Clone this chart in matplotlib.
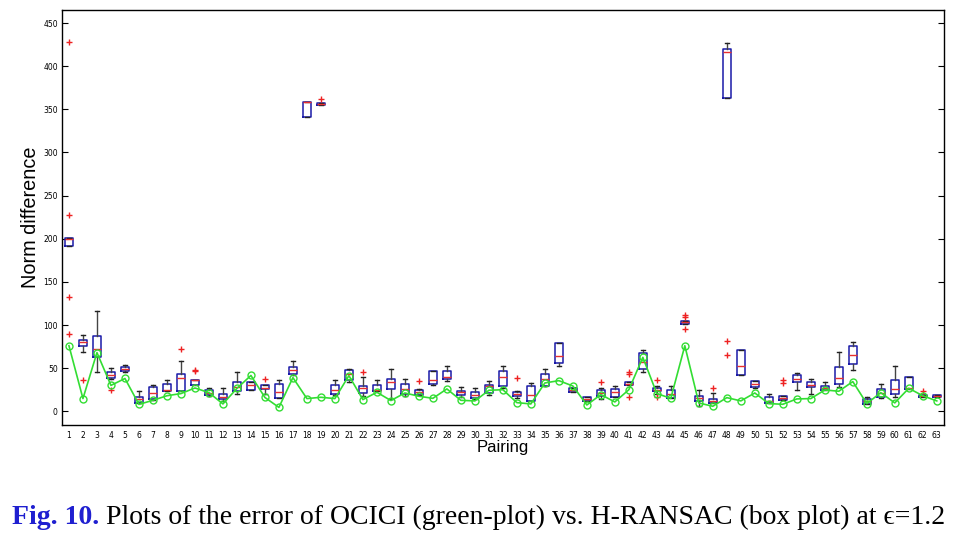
import matplotlib
matplotlib.use('Agg')
import matplotlib.pyplot as plt

# box statistics per pairing
pairing = list(range(1, 64))
q1 = [192, 76, 63, 38, 47, 10, 14, 24, 24, 30, 18.6, 14, 23, 25, 25.5, 15, 43.5, 341, 355, 20,
      36.7, 21.2, 24, 25.9, 20, 18.5, 31.6, 37.4, 18.5, 15.4, 21.2, 29.3, 17.4, 12, 29.7, 56.4, 22, 12.4, 17.4, 16.2,
      30, 49.4, 23, 15.8, 101.5, 12.4, 9.6, 363, 42, 28, 10, 13.5, 34.4, 27.8, 24.7, 31.6, 55, 8.9, 17, 20,
      26.2, 16.6, 17]
med = [200, 80, 72, 42, 49.5, 14.7, 21.6, 24.7, 38, 36.7, 21.3, 17, 28, 30, 27.5, 22.5, 47.5, 358, 356, 24.3,
       43.6, 26.6, 25, 34, 26.2, 22.8, 36, 40, 22, 18.5, 29, 40, 19.7, 18.5, 37.8, 63.7, 25, 14.7, 21.2, 22.4,
       32, 57, 25, 20, 103, 15, 11.6, 416, 53, 32, 11.6, 15, 37, 31, 27, 38.6, 64.8, 12, 21.6, 25.5,
       27, 17.8, 18]
q3 = [201, 83, 87, 45.5, 51, 17, 28.5, 31.6, 43, 36.7, 24.4, 20, 33.5, 34, 30, 32, 51.5, 358, 357, 30.5,
      47.5, 29.7, 30.5, 37.8, 31.6, 24.7, 46.7, 47, 24, 22, 30.5, 47, 22, 29.3, 42.8, 78.7, 27, 16.6, 24.3, 25.9,
      34, 67.5, 27, 25, 105, 18, 14.7, 420, 70.6, 34.7, 16.2, 18, 42.5, 34, 29.3, 51.7, 76, 14.7, 25.5, 36,
      39.8, 18.9, 19.3]
whis_lo = [192, 69, 45, 37, 45, 9.7, 13.5, 23, 23.5, 30, 17.8, 12, 19.5, 25, 20.5, 15, 41.8, 341, 355, 18.5,
           33.6, 18, 23.5, 14.3, 18, 18.5, 31, 34.7, 16.6, 14.3, 19.3, 27, 15.4, 12, 29.7, 52, 22, 12.4, 14.7, 16.2,
           30, 46, 20.5, 15, 101.5, 6.6, 9.6, 363, 42, 27, 10, 13.5, 24.3, 20.5, 24.7, 28.5, 48, 8.9, 15.8, 17,
           26.2, 16.6, 17]
whis_hi = [201, 88, 116, 50, 54, 23.5, 30, 36, 58, 36.7, 27.5, 27, 45.5, 34, 31, 36, 58, 358, 357, 36,
           49, 39.8, 36, 49.4, 37, 25.9, 46.7, 52, 27.8, 26.6, 35, 52, 24, 32.8, 49.4, 78.7, 27, 16.6, 27, 29.7,
           34, 71.4, 29.7, 29, 105, 25, 21, 427, 70.6, 35.5, 20.5, 18, 44, 37.8, 34.4, 68.7, 80.3, 17, 31.3, 52.5,
           39.8, 18.9, 19.3]
outliers = {1: [428, 228, 133, 90], 2: [36], 4: [25], 9: [72], 10: [47, 48], 15: [37.5],
            19: [361.5], 22: [45.5], 26: [34.7], 33: [38.6], 39: [34.4], 41: [46, 43.6, 16.6],
            43: [36, 16.6], 45: [111.6, 109, 95], 47: [27], 48: [82, 65], 52: [36, 33], 62: [23.5]}

# OCICI error (green plot)
ocici = [76, 14.7, 68, 30, 38, 8, 12.7, 18, 20.5, 27, 21.6, 8.5, 26.5, 41.5, 16, 4.5, 39, 14.7, 16.2, 14.7,
         41.3, 13.5, 22, 12.4, 21.2, 17.4, 15, 25.9, 12.7, 12, 24.3, 25, 10, 8.5, 32.8, 35.5, 29.3, 7.3, 19.3, 10.8,
         25, 62.5, 20.5, 15, 76, 9.6, 5.8, 15.8, 12, 21.2, 8.9, 8.1, 14.3, 14.7, 24.7, 23.2, 34.4, 8.9, 21.6, 9.7,
         26.6, 18, 12]

stats = []
for i, p in enumerate(pairing):
    stats.append({'q1': q1[i], 'med': med[i], 'q3': q3[i],
                  'whislo': whis_lo[i], 'whishi': whis_hi[i],
                  'fliers': outliers.get(p, [])})

fig = plt.figure(figsize=(9.65, 5.34), dpi=100)
ax = fig.add_axes([0.0642, 0.204, 0.9138, 0.777])

ax.bxp(stats, positions=pairing, widths=0.55, patch_artist=False,
       boxprops=dict(color='#1a1aa8', linewidth=1.1),
       medianprops=dict(color='#e83030', linewidth=1.0),
       whiskerprops=dict(color='#444444', linewidth=1.0),
       capprops=dict(color='#222222', linewidth=1.0),
       flierprops=dict(marker='+', markeredgecolor='#ee2222', markersize=5, markeredgewidth=1.0))

ax.plot(pairing, ocici, color='#33dd33', linewidth=1.2, marker='o', markersize=5,
        markerfacecolor='none', markeredgecolor='#33dd33', markeredgewidth=1.0, zorder=3)

ax.set_xlim(0.5, 63.5)
ax.set_ylim(-16, 465)
ax.set_yticks(range(0, 451, 50))
ax.set_xticks(pairing)
ax.set_xticklabels([str(p) for p in pairing])
ax.tick_params(axis='y', direction='in', length=4, labelsize=5.5, right=True, pad=3)
ax.tick_params(axis='x', length=0, labelsize=5.5, pad=4)
for s in ax.spines.values():
    s.set_linewidth(1.0)
ax.set_xlabel('Pairing', fontsize=12, family='Liberation Sans', labelpad=0)
ax.set_ylabel('Norm difference', fontsize=14.3, family='Liberation Sans', labelpad=2)

# caption
serif = ['Liberation Serif', 'DejaVu Serif']
t1 = fig.text(0.0124, 0.019, 'Fig. 10.', fontsize=20, fontweight='bold', color='#1f1fd0', family=serif)
fig.canvas.draw()
bb = t1.get_window_extent()
x2 = (bb.x1 + 7) / fig.bbox.width
fig.text(x2, 0.019, 'Plots of the error of OCICI (green-plot) vs. H-RANSAC (box plot) at ϵ=1.2',
         fontsize=20, color='black', family=serif)

fig.savefig('out.png', dpi=100)
